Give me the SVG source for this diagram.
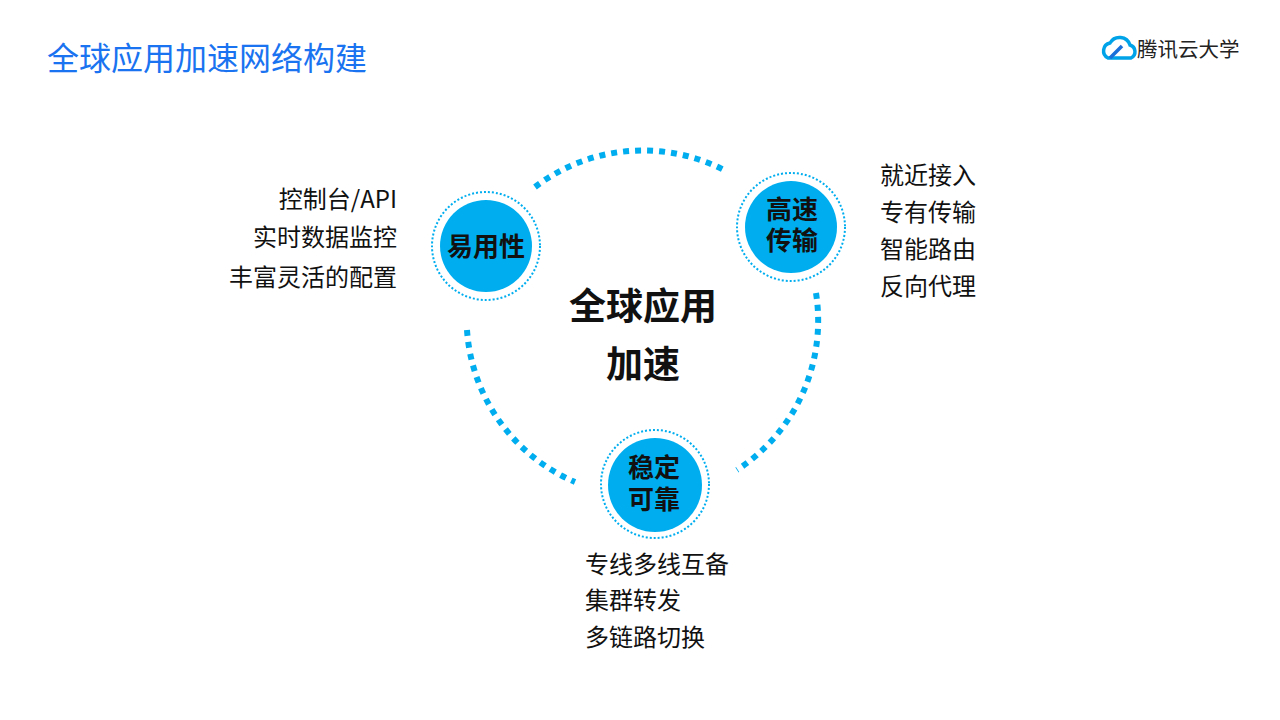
<svg xmlns="http://www.w3.org/2000/svg" width="1280" height="720" viewBox="0 0 1280 720">
<style>
.t{font-family:"Noto Sans CJK SC","Liberation Sans",sans-serif;}
.lbl{font-size:24px;fill:#111;}
.node{fill:#00aeef;}
.ring{fill:none;stroke:#00aeef;stroke-width:2;stroke-dasharray:2 2;}
.nt{font-size:26px;font-weight:bold;fill:#111;text-anchor:middle;}
.arc{fill:none;stroke:#00aeef;stroke-width:6;stroke-dasharray:6 6;}
</style>
<rect width="1280" height="720" fill="#fff"/>
<text class="t" x="47" y="70" font-size="32" fill="#1a73f0">全球应用加速网络构建</text>
<g id="logo">
<path d="M1108,58 a8,8 0 0 1 2,-15 a11,11 0 0 1 20,2 a7,7 0 0 1 1,13 z" fill="none" stroke="#00a3e8" stroke-width="3.5"/>
<path d="M1110,58 L1122,46" stroke="#1a6fd8" stroke-width="3.5"/>
<text class="t" x="1137" y="57" font-size="20.5" fill="#222">腾讯云大学</text>
</g>
<g id="connectors">
<path class="arc" d="M535,187 A178,178 0 0 1 724,170"/>
<path class="arc" d="M816,293 A178,178 0 0 1 737,470"/>
<path class="arc" d="M467,330 A178,178 0 0 0 575,482"/>
</g>
<g id="center"><text class="t" x="643" y="320" font-size="37" font-weight="bold" text-anchor="middle" fill="#111">全球应用</text>
<text class="t" x="643" y="378" font-size="37" font-weight="bold" text-anchor="middle" fill="#111">加速</text></g>
<g id="n1"><circle class="ring" cx="486" cy="246" r="54"/><circle class="node" cx="486" cy="246" r="46"/>
<text class="t nt" x="486" y="256" font-size="27">易用性</text>
<text class="t lbl" x="397" y="208" text-anchor="end">控制台/API</text>
<text class="t lbl" x="397" y="246" text-anchor="end">实时数据监控</text>
<text class="t lbl" x="397" y="286" text-anchor="end">丰富灵活的配置</text></g>
<g id="n2"><circle class="ring" cx="791" cy="227" r="54"/><circle class="node" cx="791" cy="227" r="46"/>
<text class="t nt" x="792" y="219">高速</text><text class="t nt" x="792" y="250">传输</text>
<text class="t lbl" x="880" y="184">就近接入</text>
<text class="t lbl" x="880" y="221">专有传输</text>
<text class="t lbl" x="880" y="258">智能路由</text>
<text class="t lbl" x="880" y="295">反向代理</text></g>
<g id="n3"><circle class="ring" cx="655" cy="484" r="54"/><circle class="node" cx="655" cy="485" r="47"/>
<text class="t nt" x="654" y="477">稳定</text><text class="t nt" x="654" y="509">可靠</text>
<text class="t lbl" x="585" y="573">专线多线互备</text>
<text class="t lbl" x="585" y="609">集群转发</text>
<text class="t lbl" x="585" y="646">多链路切换</text></g>
</svg>
